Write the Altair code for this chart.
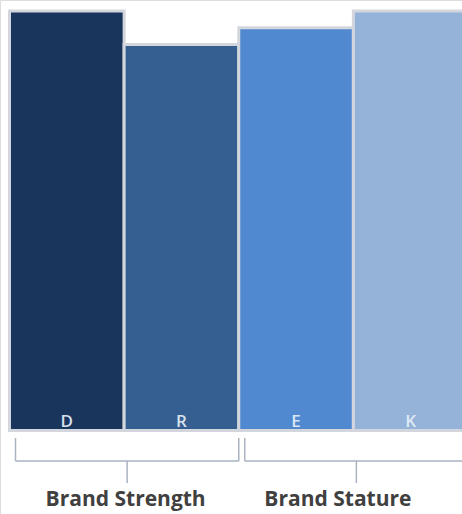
import altair as alt
import pandas as pd

categories = ["D", "R", "E", "K"]
values = [100, 92, 96, 100]
bar_colors = ["#1a355c", "#365f91", "#5189d1", "#95b3d9"]

groups = ["Brand Strength", "Brand Stature"]
group_first = ["D", "E"]
group_last = ["R", "K"]

bars_df = pd.DataFrame({"cat": categories, "value": values})
groups_df = pd.DataFrame({"group": groups, "first": group_first, "last": group_last})

xscale = alt.Scale(domain=categories, range=[9.5, 468], paddingInner=0, paddingOuter=0)
yscale = alt.Scale(domain=[0, 100], range=[430.5, 11])

base = alt.Chart(bars_df)

bars = base.mark_bar(stroke="#d3d7dd", strokeWidth=3).encode(
    x=alt.X("cat:N", scale=xscale, axis=None),
    y=alt.Y("value:Q", scale=yscale, axis=None),
    color=alt.Color("cat:N", scale=alt.Scale(domain=categories, range=bar_colors), legend=None),
)

bar_labels = base.transform_calculate(zero="0").mark_text(
    baseline="alphabetic", dy=-4, fontSize=17, font="Open Sans", fontWeight=600,
    color="#e6eef8", opacity=0.92
).encode(
    x=alt.X("cat:N", scale=xscale, axis=None),
    y=alt.Y("zero:Q", scale=yscale, axis=None),
    text="cat:N",
)

gbase = alt.Chart(groups_df)
rule_color = "#a9b3c2"

hline = gbase.mark_rule(color=rule_color, strokeWidth=1.5, xOffset=6).encode(
    x=alt.X("first:N", bandPosition=0, scale=xscale, axis=None),
    x2=alt.X2("last:N", bandPosition=1),
    y=alt.value(461),
)

left_end = gbase.mark_rule(color=rule_color, strokeWidth=1.5, xOffset=6).encode(
    x=alt.X("first:N", bandPosition=0, scale=xscale, axis=None),
    y=alt.value(438),
    y2=alt.value(461),
)

right_end = gbase.mark_rule(color=rule_color, strokeWidth=1.5).encode(
    x=alt.X("last:N", bandPosition=1, scale=xscale, axis=None),
    y=alt.value(438),
    y2=alt.value(461),
)

center_tick = gbase.mark_rule(color=rule_color, strokeWidth=1.5, xOffset=3).encode(
    x=alt.X("first:N", bandPosition=1, scale=xscale, axis=None),
    y=alt.value(461),
    y2=alt.value(483),
)

label1 = gbase.transform_filter(alt.datum.group == groups[0]).mark_text(
    fontSize=21, fontWeight="bold", font="Open Sans", color="#404040", baseline="alphabetic", dx=1.5
).encode(
    x=alt.X("first:N", bandPosition=1, scale=xscale, axis=None),
    y=alt.value(506),
    text="group:N",
)

label2 = gbase.transform_filter(alt.datum.group == groups[1]).mark_text(
    fontSize=21, fontWeight="bold", font="Open Sans", color="#404040", baseline="alphabetic", dx=-15.5
).encode(
    x=alt.X("first:N", bandPosition=1, scale=xscale, axis=None),
    y=alt.value(506),
    text="group:N",
)

chart = alt.layer(
    bars, bar_labels, hline, left_end, right_end, center_tick, label1, label2
).properties(
    width=462, height=514, autosize=alt.AutoSizeParams(type="none"), padding=0
).configure_view(stroke=None).configure(background="white")

chart.save("out.html", embed_options={"renderer": "svg", "actions": False})
